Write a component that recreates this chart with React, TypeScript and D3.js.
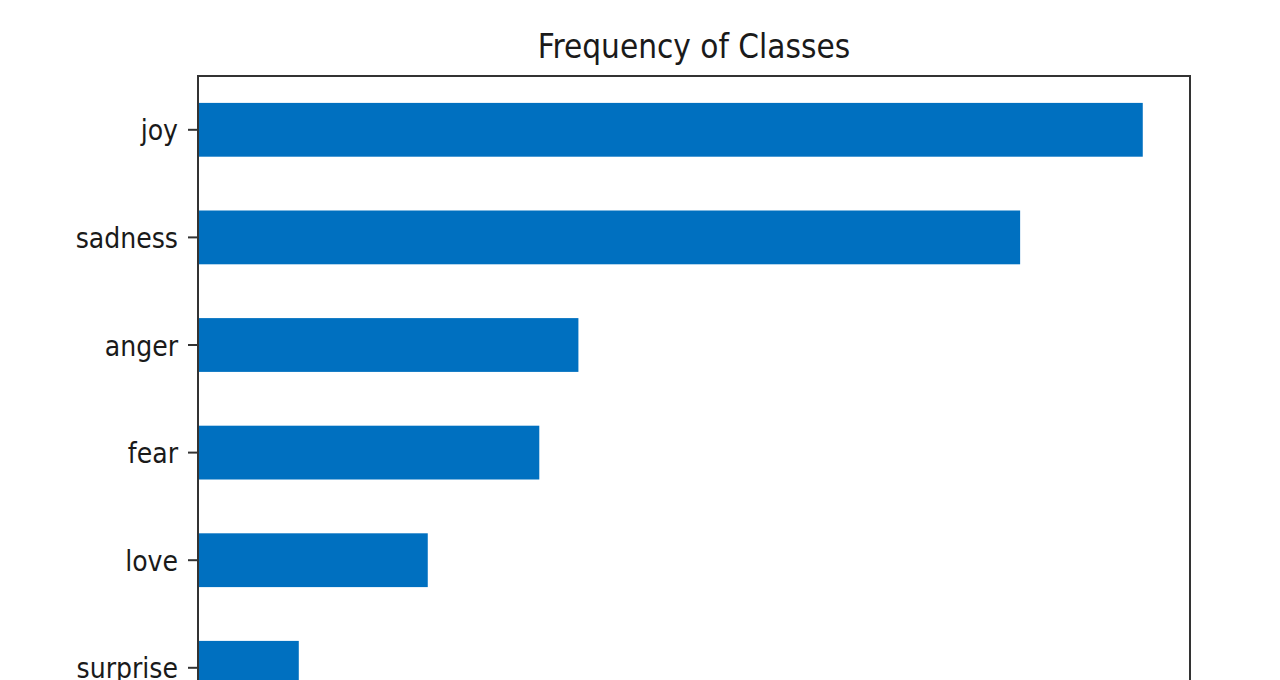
import React from "react";
import * as d3 from "d3";

const categories = ["joy", "sadness", "anger", "fear", "love", "surprise"];
const counts = [5362, 4666, 2159, 1937, 1304, 572];
const title = "Frequency of Classes";

const W = 1280;
const H = 680;
const left = 198;
const right = 1190;
const top = 76;
const step = 107.6;
const bottom = top + step * categories.length;

export default function App() {
  const x = d3.scaleLinear().domain([0, d3.max(counts)! * 1.05]).range([left, right]);
  const y = d3.scaleBand<string>().domain(categories).range([top, bottom]).paddingInner(0.5).paddingOuter(0.25);
  const font = "'Liberation Sans Narrow', 'DejaVu Sans Condensed', sans-serif";
  return (
    <svg width={W} height={H} style={{ position: "absolute", left: 0, top: 0, background: "#fff" }}>
      <rect x={0} y={0} width={W} height={H} fill="#fff" />
      {categories.map((c, i) => (
        <rect key={c} x={x(0)} y={y(c)!} width={x(counts[i]) - x(0)} height={y.bandwidth()} fill="#0070c0" />
      ))}
      <rect x={left} y={top} width={right - left} height={bottom - top} fill="none" stroke="#333" strokeWidth={2} />
      {categories.map((c) => {
        const cy = y(c)! + y.bandwidth() / 2;
        return (
          <g key={c}>
            <line x1={left - 10} x2={left} y1={cy} y2={cy} stroke="#333" strokeWidth={2} />
            <text x={left - 20} y={cy} dy="0.38em" textAnchor="end" fontFamily={font} fontSize={28} fill="#1a1a1a">
              {c}
            </text>
          </g>
        );
      })}
      <text x={(left + right) / 2} y={58} textAnchor="middle" fontFamily={font} fontSize={33} fill="#1a1a1a">
        {title}
      </text>
    </svg>
  );
}
